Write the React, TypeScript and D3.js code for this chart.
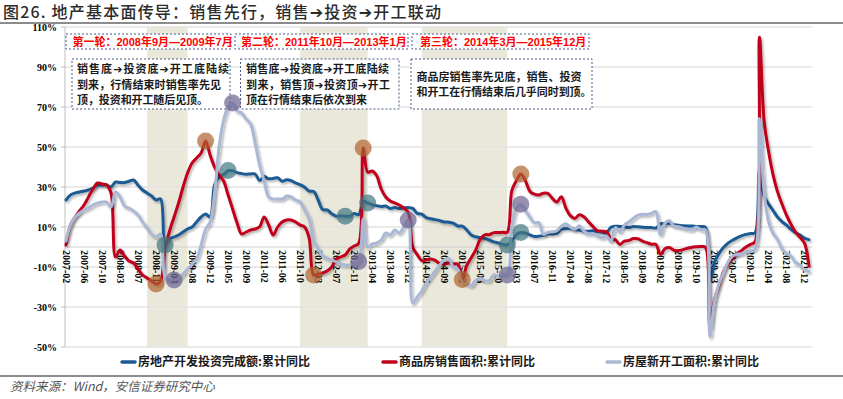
import React from 'react';
import * as d3 from 'd3';

// ---------- DATA ----------
const YEARS = [2007, 2008, 2009, 2010, 2011, 2012, 2013, 2014, 2015, 2016, 2017, 2018, 2019, 2020, 2021];
const MONTHS = ['02', '03', '04', '05', '06', '07', '08', '09', '10', '11', '12'];
const LAST_CATEGORY = '2022-02';
const categories: string[] = [...YEARS.flatMap((yr) => MONTHS.map((m) => `${yr}-${m}`)), LAST_CATEGORY];

const tickLabels = [
  '2007-02', '2007-06', '2007-10', '2008-03', '2008-07', '2008-11', '2009-04', '2009-08', '2009-12',
  '2010-05', '2010-09', '2011-02', '2011-06', '2011-10', '2012-03', '2012-07', '2012-11', '2013-04',
  '2013-08', '2013-12', '2014-05', '2014-09', '2015-02', '2015-06', '2015-10', '2016-03', '2016-07',
  '2016-11', '2017-04', '2017-08', '2017-12', '2018-05', '2018-09', '2019-02', '2019-06', '2019-10',
  '2020-03', '2020-07', '2020-11', '2021-04', '2021-08', '2021-12',
];

const yTicks = [110, 90, 70, 50, 30, 10, -10, -30, -50];

// 房地产开发投资完成额:累计同比
const investYoY = [
  23.5, 26, 27, 27.5, 28, 28.5, 29.5, 31, 31, 31, 30,
  32.5, 32.2, 32.2, 32.9, 33.5, 30.9, 28.5, 27, 25.5, 23.5, 24,
  1.0, 4.0, 5.0, 6.0, 7.5, 9.0, 10.0, 12.5, 15.0, 16.5, 15.0,
  31.1, 35.1, 36.2, 38.2, 38.1, 37.2, 36.7, 36.4, 36.5, 36.5, 33.2,
  35.2, 34.1, 34.3, 34.6, 32.9, 33.6, 33.2, 32.0, 31.1, 29.9, 27.9,
  27.8, 23.5, 18.7, 18.5, 16.6, 15.4, 15.6, 15.4, 15.4, 16.7, 16.2,
  22.8, 22.0, 21.1, 20.6, 20.3, 20.5, 19.3, 19.7, 19.2, 19.5, 19.8,
  19.3, 16.8, 16.4, 14.7, 14.1, 13.7, 13.2, 12.5, 12.4, 11.9, 10.5,
  10.4, 8.5, 6.0, 5.1, 4.6, 4.3, 3.5, 2.6, 2.0, 1.3, 1.0,
  3.0, 6.2, 7.2, 7.0, 6.1, 5.3, 5.4, 5.8, 6.6, 6.5, 6.9,
  8.9, 9.1, 9.3, 8.8, 8.5, 7.9, 7.9, 8.1, 7.8, 7.5, 7.0,
  9.9, 10.4, 10.3, 10.2, 9.7, 10.2, 10.1, 9.9, 9.7, 9.7, 9.5,
  11.6, 11.8, 11.9, 11.2, 10.9, 10.6, 10.5, 10.5, 10.3, 10.2, 9.9,
  -16.3, -7.7, -3.3, -0.3, 1.9, 3.4, 4.6, 5.6, 6.3, 6.8, 7.0,
  38.3, 25.6, 21.6, 18.3, 15.0, 12.7, 10.9, 8.8, 7.2, 6.0, 4.4,
  3.7,
];

// 商品房销售面积:累计同比
const salesYoY = [
  1, 11, 15, 18, 21, 25, 29, 32, 31.5, 31, 27,
  -5, -1.5, -4.5, -7, -8, -11, -14, -15.5, -17, -18.5, -17,
  -1, 8, 15, 22, 30, 37, 42, 44.5, 47, 53, 46,
  40, 36, 33, 26, 19, 12, 6.5, 7.5, 8.5, 9, 10.1,
  15, 11, 6, 10, 12.5, 13.5, 13.5, 12.5, 11, 10, 4.4,
  -14, -13.6, -13, -12, -10, -6, -5, -4, -1, 0.5, 1.8,
  49.5, 37.4, 38, 35.6, 29, 25, 23, 22, 21, 19.5, 17.3,
  -0.1, -3.8, -6.8, -6.5, -6, -6.7, -8.3, -8.6, -8, -8.5, -8.5,
  -16.3, -9.2, -5.4, -1.4, 3.9, 6.1, 6.2, 7.2, 7.2, 7.4, 7.4,
  28.2, 33.1, 36.5, 33.2, 27.9, 26.4, 26.0, 26.9, 26.8, 24.3, 22.5,
  25.1, 19.5, 15.7, 14.3, 16.1, 15.1, 12.7, 10.3, 8.2, 7.9, 7.7,
  4.1, 3.6, 1.3, 2.9, 3.3, 4.2, 4.1, 2.9, 2.2, 1.4, 1.3,
  -3.6, -0.9, -0.3, -1.6, -1.8, -1.3, -0.6, -0.1, 0.1, 0.2, -0.1,
  -39.9, -26.3, -19.3, -12.3, -8.4, -5.8, -3.3, -1.8, 0.0, 1.3, 2.6,
  104.9, 63.8, 48.1, 36.3, 27.7, 21.5, 15.9, 11.3, 7.5, 4.8, 1.9,
  -9.6,
];

// 房屋新开工面积:累计同比
const startsYoY = [
  3, 11, 15, 17, 18.5, 19.5, 21, 22, 22.5, 22.5, 20,
  27.5, 25, 20.5, 19.5, 18, 16, 12.5, 9.5, 6.5, 5, 6.5,
  -15, -16.5, -16.5, -16, -13.5, -11, -8.5, -6, 1, 9, 12.5,
  27, 50, 63.5, 70, 72, 68, 67, 64, 61.5, 52, 41,
  33, 25, 24, 24, 24, 25.5, 25, 23.5, 22.5, 18.5, 14,
  3, -1, -4.5, -5.5, -6.5, -7.5, -8.5, -9, -9, -8, -7.3,
  14, 0, 1.5, 2, 3.5, 7, 6, 8.5, 7, 10, 13.5,
  -28, -25, -22, -18, -15, -12, -9, -6.5, -5.7, -10, -11,
  -17.7, -18.4, -19.3, -16.6, -15.8, -16.8, -16.8, -13.9, -14.5, -13.4, -14.0,
  10.7, 19.2, 21.4, 18.3, 14.9, 12.1, 12.2, 6.4, 7.4, 7.6, 8.1,
  10.4, 11.6, 9.9, 8.9, 10.6, 7.9, 6.6, 6.7, 5.6, 4.6, 5.5,
  2.9, 9.7, 7.5, 11.0, 12.5, 14.4, 15.9, 16.4, 16.3, 16.8, 17.7,
  6.0, 11.9, 13.1, 10.5, 10.1, 9.5, 8.9, 8.6, 10.0, 8.6, 8.5,
  -44.9, -27.2, -18.4, -12.8, -7.6, -4.5, -3.6, -3.4, -2.7, -2.0, -1.2,
  64.3, 28.2, 12.8, 6.9, 3.8, -0.9, -3.2, -4.5, -7.7, -9.1, -11.4,
  -12.2,
];

const seriesNames = ['房地产开发投资完成额:累计同比', '商品房销售面积:累计同比', '房屋新开工面积:累计同比'];
const seriesValues = [investYoY, salesYoY, startsYoY];

// shaded periods (start, end category)
const bandStarts = ['2008-09', '2011-10', '2014-04'];
const bandEnds = ['2009-07', '2013-03', '2015-12'];

// highlighted turning points: category + series index (0 invest, 1 sales, 2 starts)
const markerCats = [
  '2008-11', '2009-02', '2009-04', '2009-11', '2010-05', '2010-06',
  '2012-02', '2012-09', '2012-12', '2013-02', '2013-03', '2013-12',
  '2015-02', '2015-12', '2015-12', '2016-04', '2016-04', '2016-04',
];
const markerSeries = [1, 0, 2, 1, 0, 2, 1, 0, 2, 1, 0, 2, 1, 0, 2, 1, 0, 2];

const roundTitles = ['第一轮：2008年9月—2009年7月', '第二轮：2011年10月—2013年1月', '第三轮：2014年3月—2015年12月'];
const roundNotes = [
  ['销售底➔投资底➔开工底陆续', '到来，行情结束时销售率先见', '顶，投资和开工随后见顶。'],
  ['销售底➔投资底➔开工底陆续', '到来，销售顶➔投资顶➔开工', '顶在行情结束后依次到来'],
  ['商品房销售率先见底，销售、投资', '和开工在行情结束后几乎同时到顶。'],
];

const titleText = '图26. 地产基本面传导：销售先行，销售➔投资➔开工联动';
const sourceText = '资料来源：Wind，安信证券研究中心';

// ---------- STYLE / LAYOUT ----------
const LINE_COLORS = ['#1D5A93', '#C0001A', '#AAB8D6'];
const MARKER_COLORS = ['#3F7680', '#B0632C', '#6B6590'];
const SERIF = "'Liberation Serif', 'Times New Roman', serif";
const CJK = "'Noto Sans CJK SC', 'DejaVu Sans', sans-serif";
const RED_FONT = "'Liberation Sans', 'Noto Sans CJK SC', 'DejaVu Sans', sans-serif";

const titleBoxes = [
  { x: 66, w: 165, tx: 72.5 },
  { x: 235, w: 173, tx: 241 },
  { x: 412, w: 177, tx: 420 },
];
const noteBoxes = [
  { x: 72, w: 158, tx: 77, ys: [73, 89, 104], lens: [152, 144, 131] },
  { x: 240.5, w: 158.5, tx: 246, ys: [73, 89, 104], lens: [143, 144, 121] },
  { x: 411, w: 181, tx: 416.5, ys: [81, 96], lens: [165, 175] },
];

export default function App() {
  const W = 843;
  const H = 399;
  const plotLeft = 65;
  const plotRight = 812;
  const x = d3.scalePoint<string>().domain(categories).range([66, 809]);
  const y = d3.scaleLinear().domain([-50, 110]).range([347, 27]);
  const top = y(110);
  const bottom = y(-50);

  const lineGen = d3
    .line<number>()
    .x((_, i) => x(categories[i]) as number)
    .y((d) => y(d))
    .curve(d3.curveCatmullRom.alpha(0.5));

  const legendX = [122, 383, 607];

  return (
    <svg
      width={W}
      height={H}
      viewBox={`0 0 ${W} ${H}`}
      style={{ position: 'absolute', left: 0, top: 0, background: '#fff' }}
    >
      <defs>
        <filter id="shadow" filterUnits="userSpaceOnUse" x={0} y={0} width={W} height={H}>
          <feDropShadow dx={1.5} dy={1.8} stdDeviation={1} floodColor="#000" floodOpacity={0.3} />
        </filter>
        <filter id="soft" filterUnits="userSpaceOnUse" x={0} y={0} width={W} height={H}>
          <feGaussianBlur stdDeviation={0.6} />
        </filter>
      </defs>

      {/* Title */}
      <text
        x={3}
        y={18}
        fontFamily={CJK}
        fontSize={16}
        fontWeight={500}
        fill="#2b2b2b"
        textLength={438}
        lengthAdjust="spacing"
      >
        {titleText}
      </text>
      <line x1={0} x2={W} y1={23} y2={23} stroke="#8c8c8c" strokeWidth={2} />

      {/* shaded bands */}
      {bandStarts.map((s, i) => (
        <rect
          key={`band${i}`}
          x={x(s) as number}
          y={top}
          width={(x(bandEnds[i]) as number) - (x(s) as number)}
          height={bottom - top}
          fill="#EAE7DB"
        />
      ))}

      {/* gridlines */}
      {yTicks.map((t) => (
        <line key={`g${t}`} x1={plotLeft} x2={plotRight} y1={y(t)} y2={y(t)} stroke="#E3E3E3" strokeWidth={1.5} />
      ))}
      <line x1={plotLeft} x2={plotRight} y1={y(0)} y2={y(0)} stroke="#D0D0D0" strokeWidth={1} />

      {/* y axis */}
      <line x1={plotLeft} x2={plotLeft} y1={top} y2={bottom} stroke="#BFBFBF" strokeWidth={1} />
      {yTicks.map((t) => (
        <g key={`yt${t}`}>
          <line x1={plotLeft - 4} x2={plotLeft} y1={y(t)} y2={y(t)} stroke="#BFBFBF" />
          <text
            x={57}
            y={y(t)}
            dy="0.35em"
            textAnchor="end"
            fontFamily={SERIF}
            fontWeight="bold"
            fontSize={10}
            fill="#000"
          >
            {`${t}%`}
          </text>
        </g>
      ))}

      {/* round title boxes */}
      {roundTitles.map((t, i) => (
        <g key={`rt${i}`}>
          <rect
            x={titleBoxes[i].x}
            y={34}
            width={titleBoxes[i].w}
            height={15}
            fill="#fff"
            stroke="#4A5A85"
            strokeWidth={1}
            strokeDasharray="2,2"
          />
          <text x={titleBoxes[i].tx} y={45.5} fontFamily={RED_FONT} fontWeight="bold" fontSize={11} fill="#FF0000">
            {t}
          </text>
        </g>
      ))}

      {/* note boxes */}
      {roundNotes.map((lines, i) => (
        <g key={`nb${i}`}>
          <rect
            x={noteBoxes[i].x}
            y={59}
            width={noteBoxes[i].w}
            height={50}
            fill="#fff"
            stroke="#4A5A85"
            strokeWidth={1}
            strokeDasharray="2,2"
          />
          {lines.map((ln, j) => (
            <text
              key={`nl${i}${j}`}
              x={noteBoxes[i].tx}
              y={noteBoxes[i].ys[j]}
              fontFamily={CJK}
              fontWeight={600}
              fontSize={11}
              fill="#1a1a1a"
              textLength={noteBoxes[i].lens[j]}
              lengthAdjust="spacing"
            >
              {ln}
            </text>
          ))}
        </g>
      ))}

      {/* x tick labels */}
      {tickLabels.map((lab) => (
        <text
          key={`xt${lab}`}
          transform={`translate(${x(lab)},${y(0) + 3}) rotate(90)`}
          dy="0.35em"
          textAnchor="start"
          fontFamily={SERIF}
          fontWeight="bold"
          fontSize={10}
          fill="#000"
        >
          {lab}
        </text>
      ))}

      {/* lines */}
      {seriesValues.map((vals, si) => (
        <path
          key={`s${si}`}
          d={lineGen(vals) || ''}
          fill="none"
          stroke={LINE_COLORS[si]}
          strokeWidth={3}
          strokeLinejoin="round"
          strokeLinecap="round"
          filter="url(#shadow)"
        />
      ))}

      {/* turning point markers */}
      {markerCats.map((c, i) => {
        const si = markerSeries[i];
        const idx = categories.indexOf(c);
        return (
          <circle
            key={`m${i}`}
            cx={x(c) as number}
            cy={y(seriesValues[si][idx])}
            r={8.5}
            fill={MARKER_COLORS[si]}
            fillOpacity={0.7}
            filter="url(#soft)"
          />
        );
      })}

      {/* legend */}
      {seriesNames.map((n, i) => (
        <g key={`lg${i}`}>
          <line
            x1={legendX[i]}
            x2={legendX[i] + 13}
            y1={362}
            y2={362}
            stroke={LINE_COLORS[i]}
            strokeWidth={3.5}
            strokeLinecap="round"
          />
          <text x={legendX[i] + 16} y={362} dy="0.35em" fontFamily={CJK} fontWeight={700} fontSize={12} fill="#1a1a1a">
            {n}
          </text>
        </g>
      ))}

      {/* footer */}
      <line x1={0} x2={W} y1={376} y2={376} stroke="#8c8c8c" strokeWidth={2} />
      <text x={10} y={391} fontFamily={CJK} fontStyle="italic" fontSize={12.5} fill="#555">
        {sourceText}
      </text>
    </svg>
  );
}
